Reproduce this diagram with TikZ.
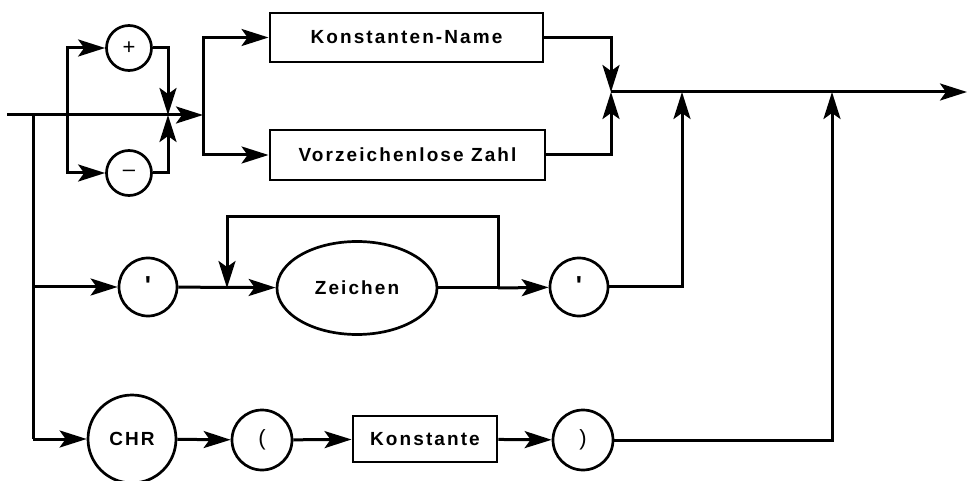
\documentclass[tikz,border=0pt]{standalone}
\usepackage{fontspec}
\setmainfont{Liberation Sans}
\newfontfamily\lblfont[LetterSpace=11]{Liberation Sans}
\usetikzlibrary{arrows.meta,shapes.geometric}
\begin{document}
\begin{tikzpicture}[x=1pt,y=-1pt,
  line width=3pt,
  every node/.style={font=\lblfont\bfseries\fontsize{19}{22}\selectfont, inner sep=0pt},
  term/.style={draw, circle, line width=2.7pt},
  nonterm/.style={draw, rectangle, line width=2.9pt},
  ell/.style={draw, ellipse, line width=2.7pt},
  sym/.style={font=\mdseries\fontsize{22}{24}\selectfont},
  quo/.style={font=\bfseries\fontsize{26}{28}\selectfont},
  arr/.style={-{Stealth[length=27pt,width=17pt,inset=6pt]}},
  line join=miter]
\useasboundingbox (0,0) rectangle (967,481);
% nodes
\node[term, minimum size=45pt, sym] (plus) at (129,48) {+};
\node[term, minimum size=45pt, sym] (minus) at (129,173) {–};
\node[nonterm, minimum width=273pt, minimum height=49pt] (kname) at (406.5,37.5) {Konstanten-Name};
\node[nonterm, minimum width=275pt, minimum height=50pt] (vzahl) at (407.5,155) {Vorzeichenlose Zahl};
\node[term, minimum size=58pt, quo] (q1) at (148,287) {\raisebox{3pt}{\textquotesingle}};
\node[ell, minimum width=160pt, minimum height=93pt] (zch) at (357,288) {Zeichen};
\node[term, minimum size=58pt, quo] (q2) at (579,287) {\raisebox{3pt}{\textquotesingle}};
\node[term, minimum size=88pt] (chr) at (132,439) {CHR};
\node[term, minimum size=60pt, sym] (lp) at (262,440) {(};
\node[nonterm, minimum width=144pt, minimum height=46pt] (konst) at (425,439) {Konstante};
\node[term, minimum size=60pt, sym] (rp) at (583,440) {)};
% coordinates
\coordinate (start) at (7,115);
\coordinate (b1) at (33,115);
\coordinate (b1q) at (33,287);
\coordinate (b1c) at (33,439);
\coordinate (s1) at (67,115);
\coordinate (m1) at (168,115);
\coordinate (s2) at (203,115);
\coordinate (m2) at (611,92);
\coordinate (j1) at (682,92);
\coordinate (j2) at (832,92);
\coordinate (endp) at (967,92);
\coordinate (lpin) at (227,288);
\coordinate (lpout) at (498,288);
% main input line and sign branches
\draw[arr] (start) -- (s2);
\draw[arr] (s1) |- (plus);
\draw[arr] (s1) |- (minus);
\draw[arr] (plus) -| (m1);
\draw[arr] (minus) -| (m1);
% split to boxes
\draw[arr] (s2) |- (kname);
\draw[arr] (s2) |- (vzahl);
\draw[arr] (kname.east) -| (m2);
\draw[arr] (vzahl.east) -| (m2);
\draw[arr] (m2) -- (endp);
% left trunk
\draw (b1) -- (b1c);
% quote row
\draw[arr] (b1q) -- (q1);
\draw[arr] (q1) -- (zch);
\draw[arr] (zch.east) -- (lpout) -- (lpout |- 0,217) -| (lpin);
\draw[arr] (lpout) -- (q2);
\draw[arr] (q2) -| (j1);
% CHR row
\draw[arr] (b1c) -- (chr);
\draw[arr] (chr) -- (lp);
\draw[arr] (lp) -- (konst);
\draw[arr] (konst) -- (rp);
\draw[arr] (rp) -| (j2);
\end{tikzpicture}
\end{document}
